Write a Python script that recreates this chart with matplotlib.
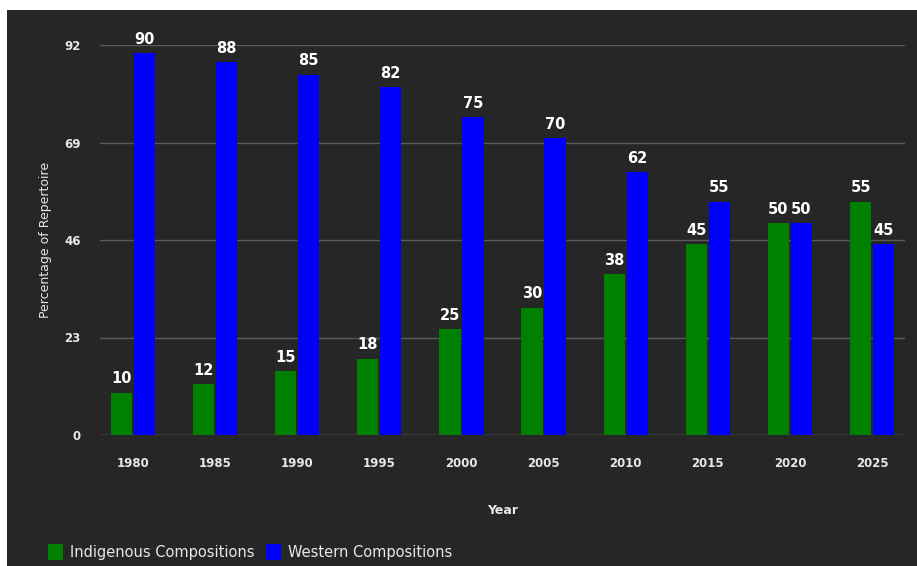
import numpy as np
import matplotlib.pyplot as plt
from matplotlib.patches import Rectangle

years = ["1980", "1985", "1990", "1995", "2000", "2005", "2010", "2015", "2020", "2025"]
indigenous = [10, 12, 15, 18, 25, 30, 38, 45, 50, 55]
western = [90, 88, 85, 82, 75, 70, 62, 55, 50, 45]
yticks = [0, 23, 46, 69, 92]

bg = "#262626"
txt = "#e8e8e8"

fig = plt.figure(figsize=(9.17, 5.66), dpi=100)
fig.patch.set_facecolor("white")
# dark panel inset by a thin white strip on the top and left
fig.add_artist(Rectangle((7 / 917, 0), 1, 556 / 566, transform=fig.transFigure,
                         facecolor=bg, edgecolor="none", zorder=0))

ax = fig.add_axes([100 / 917, 1 - 435 / 566, 805 / 917, 390 / 566])
ax.set_facecolor(bg)

x = np.arange(len(years))
w = 0.26
b1 = ax.bar(x - w / 2 - 0.01, indigenous, w, color="#008000", label="Indigenous Compositions", zorder=3)
b2 = ax.bar(x + w / 2 + 0.01, western, w, color="#0000ff", label="Western Compositions", zorder=3)

for bars, vals in ((b1, indigenous), (b2, western)):
    for r, v in zip(bars, vals):
        ax.text(r.get_x() + r.get_width() / 2, v + 1.5, str(v), ha="center", va="bottom",
                color="white", fontsize=10.5, fontweight="bold", clip_on=False)

ax.set_xlim(-0.4, 9.4)
ax.set_ylim(0, 92)
ax.set_yticks(yticks)
ax.set_xticks(x)
ax.set_xticklabels(years)
ax.tick_params(colors=txt, labelsize=8.5, length=0)
for lab in ax.get_xticklabels() + ax.get_yticklabels():
    lab.set_fontweight("bold")
ax.tick_params(axis="x", pad=16)
ax.tick_params(axis="y", pad=14)
ax.grid(axis="y", color="#5a5a5a", linewidth=1, zorder=0)
for s in ax.spines.values():
    s.set_visible(False)
ax.axhline(0, color="#5a5a5a", linewidth=1, zorder=1)

ax.set_xlabel("Year", color=txt, fontsize=9, fontweight="bold", labelpad=24)
ax.set_ylabel("Percentage of Repertoire", color=txt, fontsize=9, labelpad=9)

leg = fig.legend(handles=[b1, b2], loc="lower left", bbox_to_anchor=(35 / 917, -0.012),
                 ncol=2, frameon=False, fontsize=10.5, handlelength=1.0, handleheight=1.3,
                 columnspacing=0.8, handletextpad=0.5)
for t in leg.get_texts():
    t.set_color(txt)

fig.savefig("out.png", dpi=100, facecolor=fig.get_facecolor())
